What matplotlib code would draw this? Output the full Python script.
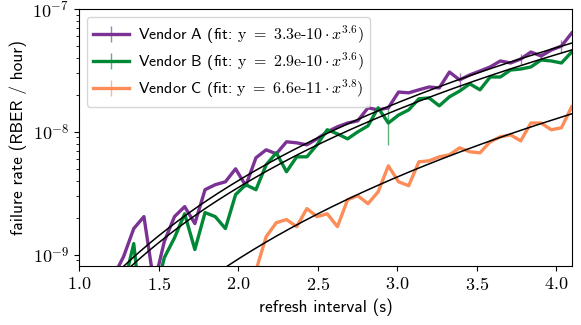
import numpy as np
import matplotlib
matplotlib.use("Agg")
import matplotlib.pyplot as plt
from matplotlib.ticker import FuncFormatter, LogLocator, NullFormatter

plt.rcParams["font.family"] = ["cmss10", "DejaVu Sans"]
plt.rcParams["mathtext.fontset"] = "cm"
plt.rcParams["axes.unicode_minus"] = False

# refresh intervals in steps of 64 ms
step = 0.064

# failure rates in units of 1e-9 RBER/hour
vendor_a_start = 19
vendor_a = [0.663, 0.963, 1.63, 2.04, 0.570, 1.28, 2.04, 2.46, 1.79, 3.38,
            3.71, 3.92, 5.00, 3.64, 6.15, 7.14, 6.63, 8.30, 8.14, 7.84,
            8.77, 10.0, 11.0, 11.8, 12.3, 15.7, 15.1, 15.7, 21.1, 20.8,
            22.0, 23.2, 22.8, 30.7, 26.5, 29.1, 31.3, 33.8, 37.8, 36.4,
            39.2, 44.7, 41.5, 46.4, 50.0, 63.8]
vendor_a_err = {53: 3.8, 59: 4.0, 61: 3.0, 63: 6.0}

vendor_b_start = 20
vendor_b = [0.549, 1.23, 0.204, 0.431, 0.945, 1.37, 2.15, 1.10, 2.20, 2.04,
            1.63, 3.08, 3.71, 3.38, 5.39, 6.75, 4.73, 6.26, 6.26, 7.84,
            10.4, 9.63, 8.77, 10.0, 11.2, 15.7, 11.8, 13.7, 15.1, 18.6,
            18.9, 16.3, 19.3, 21.5, 24.6, 22.0, 28.0, 28.0, 31.9, 32.5,
            33.8, 38.5, 37.8, 36.4, 44.7]
vendor_b_err = {46: 4.0}

vendor_c_start = 33
vendor_c = [0.741, 1.40, 1.82, 1.93, 1.69, 2.37, 2.04, 2.15, 1.69, 2.80,
            3.02, 2.60, 3.25, 5.29, 3.92, 3.64, 5.70, 5.81, 6.26, 6.50,
            7.41, 6.88, 6.75, 8.30, 9.11, 9.45, 8.45, 11.8, 11.8, 10.4,
            10.8, 16.0]
vendor_c_err = {}

fits = [(3.3e-10, 3.6), (2.9e-10, 3.6), (6.6e-11, 3.8)]
fit_labels = ["3.3e", "2.9e", "6.6e"]
fit_exps = ["10", "10", "11"]
names = ["Vendor A", "Vendor B", "Vendor C"]
colors = ["#7b3294", "#008837", "#fc8d59"]
ecolors = ["#a97bbd", "#5cb47c", "#fdb494"]


def series(start, vals, errs):
    idx = np.arange(start, start + len(vals))
    x = idx * step
    y = np.array(vals) * 1e-9
    e = np.array([errs.get(i, 0.0) for i in idx]) * 1e-9
    return x, y, e


fig, ax = plt.subplots(figsize=(5.81, 3.25), dpi=100)
fig.subplots_adjust(left=0.136, right=0.985, top=0.972, bottom=0.182)

data = [(vendor_a_start, vendor_a, vendor_a_err),
        (vendor_b_start, vendor_b, vendor_b_err),
        (vendor_c_start, vendor_c, vendor_c_err)]

xs = np.linspace(1.0, 4.1, 200)
for (start, vals, errs), (a, b), name, c, ec, fl, fe in zip(
        data, fits, names, colors, ecolors, fit_labels, fit_exps):
    x, y, e = series(start, vals, errs)
    label = (name + r" (fit: $\mathrm{y}\ =\ \mathrm{" + fl + r"}\text{-}\mathrm{" + fe
             + r"}\cdot x^{" + f"{b}" + r"})$")
    ax.errorbar(x, y, yerr=e, color=c, ecolor=ec, lw=2.4, elinewidth=1.0,
                label=label, zorder=2)
    ax.plot(xs, a * xs ** b, color="black", lw=1.1, zorder=3)

ax.set_yscale("log")
ax.set_xlim(1.0, 4.1)
ax.set_ylim(8.1e-10, 1e-7)
ax.yaxis.set_major_locator(LogLocator(base=10))
ax.yaxis.set_minor_locator(LogLocator(base=10, subs=np.arange(2, 10)))
ax.yaxis.set_minor_formatter(NullFormatter())
ax.yaxis.set_major_formatter(FuncFormatter(
    lambda v, p: r"$10^{%d}$" % int(round(np.log10(v)))))
ax.xaxis.set_major_formatter(FuncFormatter(lambda v, p: r"$%.1f$" % v))
ax.tick_params(labelsize=13)

ax.set_xlabel("refresh interval (s)", fontsize=12.5)
ax.set_ylabel("failure rate (RBER / hour)", fontsize=12.5)

ax.legend(loc="upper left", fontsize=11.5, handlelength=2.2,
          borderpad=0.4, labelspacing=0.3, handletextpad=0.6)

fig.savefig("out.png", dpi=100)
